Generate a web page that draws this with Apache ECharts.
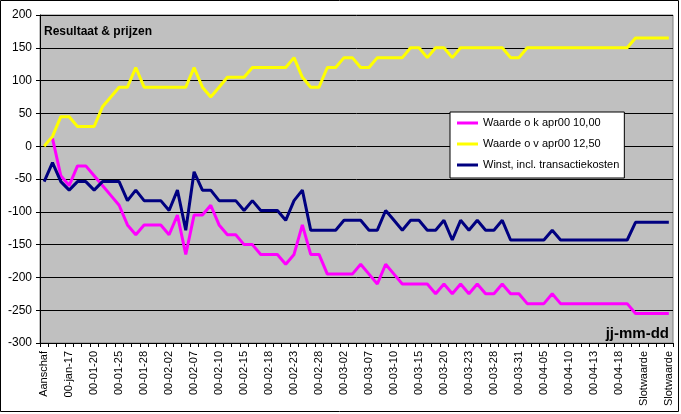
<!DOCTYPE html>
<html>
<head>
<meta charset="utf-8">
<script src="https://cdn.jsdelivr.net/npm/echarts@6/dist/echarts.min.js"></script>
<style>
html,body{margin:0;padding:0;background:#fff;}
#chart{width:681px;height:414px;}
</style>
</head>
<body>
<div id="chart"></div>
<script>
const categories = [
  'Aanschaf','00-jan-13','00-jan-14','00-jan-17','00-01-18','00-01-19','00-01-20','00-01-21','00-01-24','00-01-25',
  '00-01-26','00-01-27','00-01-28','00-01-31','00-02-01','00-02-02','00-02-03','00-02-04','00-02-07','00-02-08',
  '00-02-09','00-02-10','00-02-11','00-02-14','00-02-15','00-02-16','00-02-17','00-02-18','00-02-21','00-02-22',
  '00-02-23','00-02-24','00-02-25','00-02-28','00-02-29','00-03-01','00-03-02','00-03-03','00-03-06','00-03-07',
  '00-03-08','00-03-09','00-03-10','00-03-13','00-03-14','00-03-15','00-03-16','00-03-17','00-03-20','00-03-21',
  '00-03-22','00-03-23','00-03-24','00-03-27','00-03-28','00-03-29','00-03-30','00-03-31','00-04-03','00-04-04',
  '00-04-05','00-04-06','00-04-07','00-04-10','00-04-11','00-04-12','00-04-13','00-04-14','00-04-17','00-04-18',
  '00-04-19','00-04-20','Slotwaarde','Slotwaarde','Slotwaarde','Slotwaarde'
];

const seriesNames = ['Waarde o k apr00 10,00', 'Waarde o v apr00 12,50', 'Winst, incl. transactiekosten'];

const waardeOK = [
  null, 12, -45, -60, -30, -30, -45, -60, -75, -90,
  -120, -135, -120, -120, -120, -135, -105, -165, -105, -105,
  -90, -120, -135, -135, -150, -150, -165, -165, -165, -180,
  -165, -120, -165, -165, -195, -195, -195, -195, -180, -195,
  -210, -180, -195, -210, -210, -210, -210, -225, -210, -225,
  -210, -225, -210, -225, -225, -210, -225, -225, -240, -240,
  -240, -225, -240, -240, -240, -240, -240, -240, -240, -240,
  -240, -255, -255, -255, -255, -255
];

const waardeOV = [
  0, 15, 45, 45, 30, 30, 30, 60, 75, 90,
  90, 120, 90, 90, 90, 90, 90, 90, 120, 90,
  75, 90, 105, 105, 105, 120, 120, 120, 120, 120,
  135, 105, 90, 90, 120, 120, 135, 135, 120, 120,
  135, 135, 135, 135, 150, 150, 135, 150, 150, 135,
  150, 150, 150, 150, 150, 150, 135, 135, 150, 150,
  150, 150, 150, 150, 150, 150, 150, 150, 150, 150,
  150, 165, 165, 165, 165, 165
];

const winst = [
  -54, -25, -54, -67, -54, -54, -67, -54, -54, -54,
  -83, -67, -83, -83, -83, -98, -67, -128, -39, -67,
  -67, -83, -83, -83, -98, -83, -98, -98, -98, -113,
  -83, -67, -128, -128, -128, -128, -113, -113, -113, -128,
  -128, -98, -113, -128, -113, -113, -128, -128, -113, -143,
  -113, -128, -113, -128, -128, -113, -143, -143, -143, -143,
  -143, -128, -143, -143, -143, -143, -143, -143, -143, -143,
  -143, -116, -116, -116, -116, -116
];

const yMin = -300, yMax = 200, yStep = 50;
const FONT = "'Liberation Sans', Arial, sans-serif";

const chart = echarts.init(document.getElementById('chart'), null, {renderer: 'canvas'});

chart.setOption({
  backgroundColor: '#ffffff',
  animation: false,
  title: {
    text: 'Resultaat & prijzen',
    left: 44, top: 26, padding: 0,
    textStyle: {fontSize: 12, fontWeight: 'bold', color: '#000', fontFamily: FONT}
  },
  legend: {
    orient: 'vertical',
    left: 450, top: 112,
    padding: [4, 5, 6, 7],
    backgroundColor: '#ffffff',
    borderColor: '#000',
    borderWidth: 1,
    borderRadius: 0,
    itemWidth: 21,
    itemHeight: 3,
    itemGap: 7,
    icon: 'rect',
    textStyle: {fontSize: 11, color: '#000', fontFamily: FONT, lineHeight: 14},
    data: seriesNames
  },
  grid: {
    left: 40, right: 8, top: 15, bottom: 71,
    show: true,
    backgroundColor: '#c0c0c0',
    borderColor: '#808080',
    borderWidth: 1
  },
  xAxis: {
    type: 'category',
    data: categories,
    boundaryGap: true,
    axisLine: {show: true, onZero: false, lineStyle: {color: '#000', width: 1}},
    axisTick: {show: true, interval: 0, length: 4, lineStyle: {color: '#000'}},
    axisLabel: {interval: 2, rotate: 90, fontSize: 11, margin: 8, color: '#000', fontFamily: FONT},
    splitLine: {show: false}
  },
  yAxis: {
    type: 'value',
    min: yMin, max: yMax, interval: yStep,
    axisLine: {show: true, lineStyle: {color: '#000', width: 1}},
    axisTick: {show: true, length: 4, lineStyle: {color: '#000'}},
    axisLabel: {fontSize: 12, margin: 8, color: '#000', fontFamily: FONT},
    splitLine: {show: true, lineStyle: {color: '#000', width: 1}}
  },
  graphic: [
    {
      type: 'rect',
      shape: {x: 0.5, y: 0.5, width: 678, height: 411},
      style: {fill: 'none', stroke: '#000', lineWidth: 1},
      silent: true, z: 100
    },
    {
      type: 'text',
      right: 12, top: 326,
      style: {text: 'jj-mm-dd', font: "bold 15px 'Liberation Sans', Arial, sans-serif", fill: '#000'},
      z: 100
    }
  ],
  series: [
    {
      name: seriesNames[0], type: 'line', data: waardeOK,
      symbol: 'none', connectNulls: false,
      lineStyle: {color: '#ff00ff', width: 3},
      itemStyle: {color: '#ff00ff'}
    },
    {
      name: seriesNames[1], type: 'line', data: waardeOV,
      symbol: 'none',
      lineStyle: {color: '#ffff00', width: 3},
      itemStyle: {color: '#ffff00'}
    },
    {
      name: seriesNames[2], type: 'line', data: winst,
      symbol: 'none',
      lineStyle: {color: '#000080', width: 3},
      itemStyle: {color: '#000080'}
    }
  ]
});
</script>
</body>
</html>
